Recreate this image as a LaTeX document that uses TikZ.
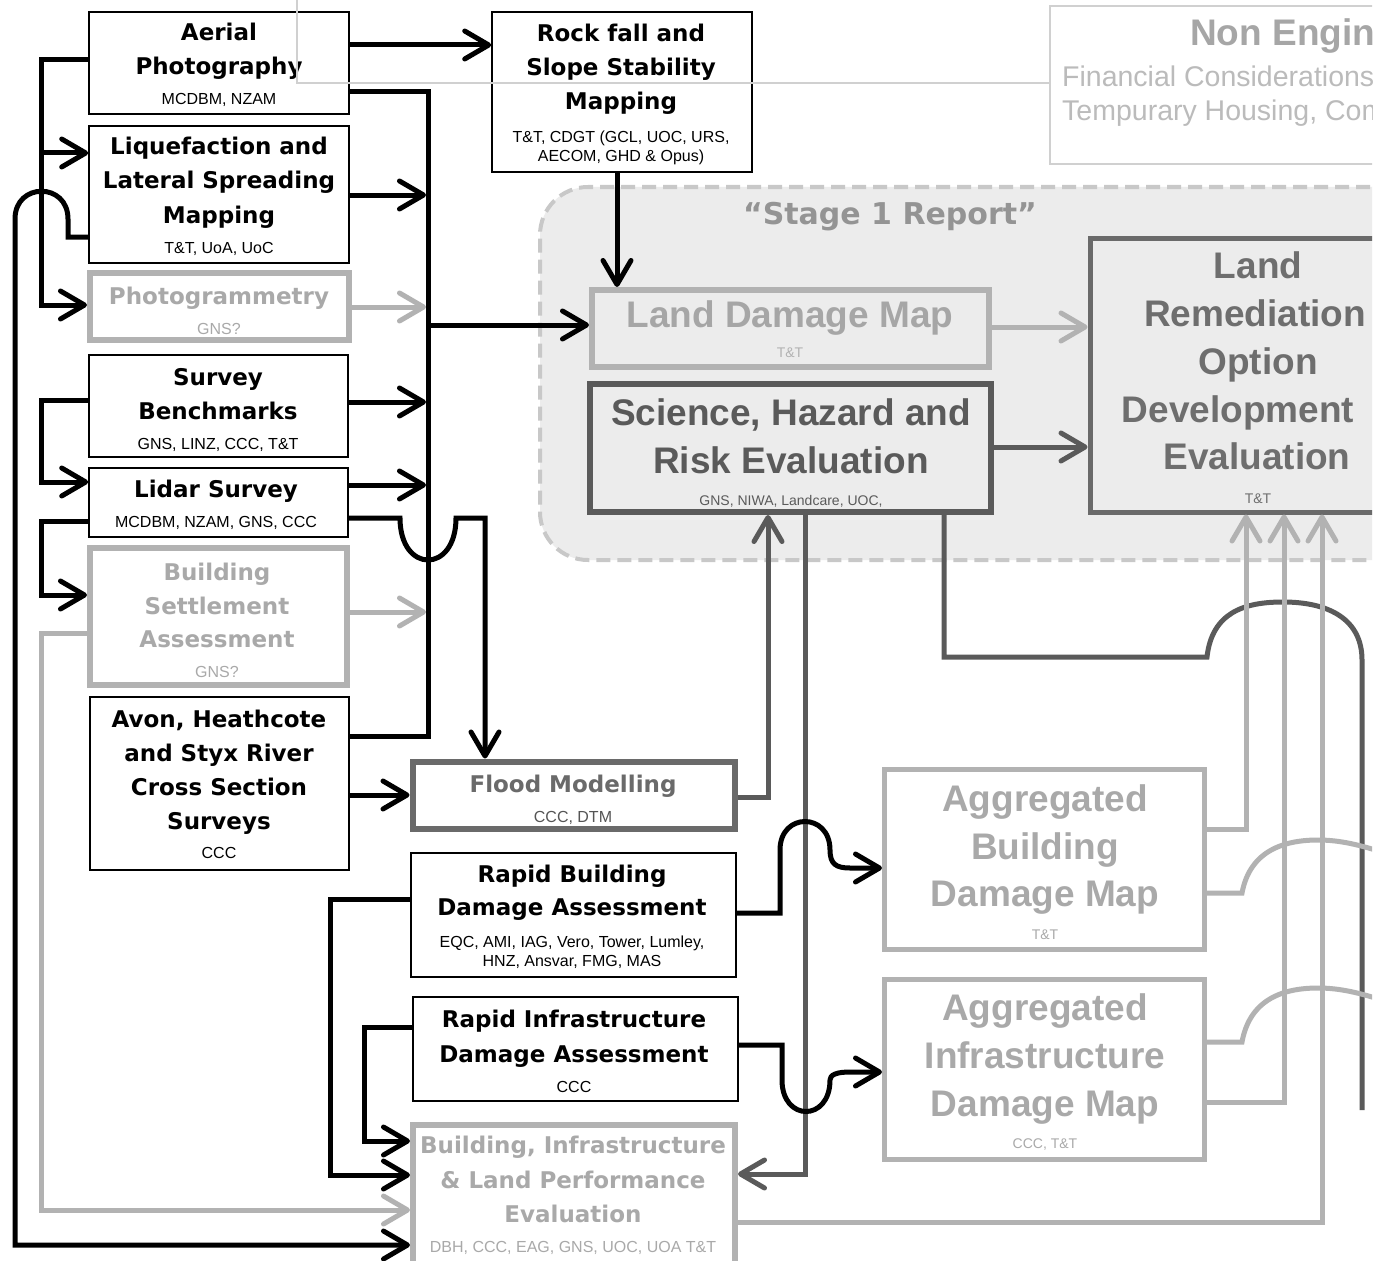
\documentclass[tikz,border=0pt]{standalone}
\usepackage{fontspec}
\usetikzlibrary{arrows.meta}
\newfontfamily\vfont{DejaVu Sans}
\newfontfamily\afont{Liberation Sans}
\definecolor{dkc}{HTML}{5A5A5A}
\definecolor{flc}{HTML}{6A6A6A}
\definecolor{lgc}{HTML}{B2B2B2}
\definecolor{lgt}{HTML}{A9A9A9}
\definecolor{regc}{HTML}{ECECEC}
\definecolor{regb}{HTML}{C8C8C8}
\definecolor{thinc}{HTML}{D0D0D0}
\definecolor{nebt}{HTML}{A6A6A6}
\definecolor{nebs}{HTML}{BBBBBB}
\tikzset{
  bbox/.style={draw=black, line width=1.6pt, fill=white},
  gbox/.style={draw=lgc, line width=6pt, fill=white},
  fbox/.style={draw=flc, line width=6pt, fill=white},
  ibox/.style={draw=lgc, line width=6pt},
  dbox/.style={draw=dkc, line width=6pt},
  region/.style={draw=regb, fill=regc, line width=4pt, dash pattern=on 14pt off 7pt, rounded corners=48pt},
  nebox/.style={draw=thinc, line width=1.2pt},
  t/.style={anchor=base, inner sep=0pt},
  ttl/.style={t, font=\vfont\bfseries\fontsize{23}{23}\selectfont, text=black},
  gttl/.style={ttl, text=lgt},
  fttl/.style={ttl, text=flc},
  sub/.style={t, font=\afont\fontsize{16}{16}\selectfont, text=black},
  gsub/.style={sub, text=lgt},
  fsub/.style={sub, text=flc!80!black},
  big/.style={t, font=\afont\bfseries\fontsize{37}{37}\selectfont},
  small/.style={t, font=\afont\fontsize{14}{14}\selectfont},
  bk/.style={draw=black, line width=5pt},
  gr/.style={draw=lgc, line width=5pt},
  dk/.style={draw=dkc, line width=5pt},
  thinl/.style={draw=thinc, line width=1.2pt},
}
\begin{document}
\begin{tikzpicture}[x=1pt, y=-1pt, >={Straight Barb[length=24pt,width=28pt,round]}, every node/.style={inner sep=0pt}]
\useasboundingbox[fill=white] (0,0) rectangle (1388,1260);
\clip (0,0) rectangle (1372,1260);

% Stage 1 region
\node[region, minimum width=920pt, minimum height=373pt] (stg) at (1000,373.5) {};
\node[t, font=\vfont\bfseries\fontsize{30}{30}\selectfont, text=black!42] (stgl) at (890,224) {“Stage 1 Report”};

% non-engineering box
\node[nebox, minimum width=380pt, minimum height=158pt] (neb) at (1240,85) {};
\node[t, anchor=base west, font=\afont\bfseries\fontsize{37}{37}\selectfont, text=nebt] (neb1) at (1190,46) {Non Engin};
\node[t, anchor=base west, font=\afont\fontsize{28.5}{28.5}\selectfont, text=nebs] (neb2) at (1062,87) {Financial Considerations};
\node[t, anchor=base west, font=\afont\fontsize{28.5}{28.5}\selectfont, text=nebs] (neb3) at (1062,121) {Tempurary Housing, Com};

% left column boxes
\node[bbox, minimum width=260pt, minimum height=102pt] (aer) at (219,63) {};
\node[ttl] (aer1) at (219,41) {Aerial};
\node[ttl] (aer2) at (219,75) {Photography};
\node[sub] (aer3) at (219,105) {MCDBM, NZAM};

\node[bbox, minimum width=260pt, minimum height=137pt] (liq) at (219,194.5) {};
\node[ttl] (liq1) at (219,155) {Liquefaction and};
\node[ttl] (liq2) at (219,189) {Lateral Spreading};
\node[ttl] (liq3) at (219,223) {Mapping};
\node[sub] (liq4) at (219,253) {T\&T, UoA, UoC};

\node[gbox, minimum width=259pt, minimum height=67pt] (pho) at (219.5,306.5) {};
\node[gttl] (pho1) at (219,304) {Photogrammetry};
\node[gsub] (pho2) at (219,334) {GNS?};

\node[bbox, minimum width=259pt, minimum height=102pt] (sur) at (218.5,406) {};
\node[ttl] (sur1) at (218,385) {Survey};
\node[ttl] (sur2) at (218,419) {Benchmarks};
\node[sub] (sur3) at (218,449) {GNS, LINZ, CCC, T\&T};

\node[bbox, minimum width=259pt, minimum height=69pt] (lid) at (218.5,502.5) {};
\node[ttl] (lid1) at (216,497) {Lidar Survey};
\node[sub] (lid2) at (216,527) {MCDBM, NZAM, GNS, CCC};

\node[gbox, minimum width=257pt, minimum height=137pt] (bse) at (218.5,616.5) {};
\node[gttl] (bse1) at (217,580) {Building};
\node[gttl] (bse2) at (217,614) {Settlement};
\node[gttl] (bse3) at (217,647) {Assessment};
\node[gsub] (bse4) at (217,677) {GNS?};

\node[bbox, minimum width=259pt, minimum height=173pt] (avo) at (219.5,783.5) {};
\node[ttl] (avo1) at (219,727) {Avon, Heathcote};
\node[ttl] (avo2) at (219,761) {and Styx River};
\node[ttl] (avo3) at (219,795) {Cross Section};
\node[ttl] (avo4) at (219,829) {Surveys};
\node[sub] (avo5) at (219,858) {CCC};

% middle column
\node[bbox, minimum width=260pt, minimum height=160pt] (roc) at (622,92) {};
\node[ttl] (roc1) at (621,42) {Rock fall and};
\node[ttl] (roc2) at (621,76) {Slope Stability};
\node[ttl] (roc3) at (621,110) {Mapping};
\node[sub] (roc4) at (621,143) {T\&T, CDGT (GCL, UOC, URS,};
\node[sub] (roc5) at (621,162) {AECOM, GHD \& Opus)};

\node[fbox, minimum width=322pt, minimum height=67pt] (flo) at (573.5,795) {};
\node[fttl] (flo1) at (573,792) {Flood Modelling};
\node[fsub] (flo2) at (573,822) {CCC, DTM};

\node[bbox, minimum width=325pt, minimum height=124pt] (rbd) at (573.5,915) {};
\node[ttl] (rbd1) at (572,882) {Rapid Building};
\node[ttl] (rbd2) at (572,915) {Damage Assessment};
\node[sub] (rbd3) at (572,947) {EQC, AMI, IAG, Vero, Tower, Lumley,};
\node[sub] (rbd4) at (572,966) {HNZ, Ansvar, FMG, MAS};

\node[bbox, minimum width=325pt, minimum height=104pt] (rid) at (575.5,1049) {};
\node[ttl] (rid1) at (574,1027) {Rapid Infrastructure};
\node[ttl] (rid2) at (574,1062) {Damage Assessment};
\node[sub] (rid3) at (574,1092) {CCC};

\node[gbox, minimum width=322pt, minimum height=145pt] (bie) at (574,1197.5) {};
\node[gttl] (bie1) at (573,1153) {Building, Infrastructure};
\node[gttl] (bie2) at (573,1188) {\& Land Performance};
\node[gttl] (bie3) at (573,1222) {Evaluation};
\node[gsub] (bie4) at (573,1252) {DBH, CCC, EAG, GNS, UOC, UOA T\&T};

% faint table lines (visible across the boxes)
\draw[thinl] (297,0) -- (297,83) -- (neb.west |- 0,83);

% stage 1 boxes
\node[ibox, minimum width=397pt, minimum height=77pt] (ldm) at (790.5,328.5) {};
\node[big, text=black!35] (ldm1) at (790,327) {Land Damage Map};
\node[small, text=black!30] (ldm2) at (790,357) {T\&T};

\node[dbox, minimum width=401pt, minimum height=128pt] (she) at (790.5,448) {};
\node[big, text=dkc] (she1) at (791,425) {Science, Hazard and};
\node[big, text=dkc] (she2) at (791,473) {Risk Evaluation};
\node[small, text=dkc] (she3) at (791,505) {GNS, NIWA, Landcare, UOC,};

\node[dbox, draw=flc, line width=5pt, minimum width=330pt, minimum height=274pt] (lro) at (1255,375) {};
\node[big, text=black!57] (lro1) at (1258,278) {Land};
\node[big, text=black!57] (lro2) at (1255,326) {Remediation};
\node[big, text=black!57] (lro3) at (1258,374) {Option};
\node[big, text=black!57] (lro4) at (1238,422) {Development};
\node[big, text=black!57] (lro5) at (1257,469) {Evaluation};
\node[small, text=black!57] (lro6) at (1258,503) {T\&T};

% aggregated maps
\node[gbox, line width=5pt, minimum width=320pt, minimum height=180pt] (abd) at (1044.5,859.5) {};
\node[big, text=lgt] (abd1) at (1045,811) {Aggregated};
\node[big, text=lgt] (abd2) at (1045,859) {Building};
\node[big, text=lgt] (abd3) at (1045,906) {Damage Map};
\node[small, text=lgt] (abd4) at (1045,939) {T\&T};

\node[gbox, line width=5pt, minimum width=320pt, minimum height=180pt] (aid) at (1044.5,1069.5) {};
\node[big, text=lgt] (aid1) at (1045,1020) {Aggregated};
\node[big, text=lgt] (aid2) at (1045,1068) {Infrastructure};
\node[big, text=lgt] (aid3) at (1045,1116) {Damage Map};
\node[small, text=lgt] (aid4) at (1045,1148) {CCC, T\&T};

% ---- connectors: dark ----
\draw[dk] (944,0 |- she.south) -- (944,657) -- (1207,657) .. controls (1212,612) and (1245,602) .. (1283,602) .. controls (1330,602) and (1362,620) .. (1362,660) -- (1362,1110);
\draw[dk,->] (flo.east |- 0,797) -- (768,797) -- (768,0 |- she.south);
\draw[dk,->] (805,0 |- she.south) -- (805,1174) -- (bie.east |- 0,1174);
\draw[dk,->] (she.east |- 0,447) -- (lro.west |- 0,447);

% ---- connectors: light grey ----
\draw[gr] (abd.east |- 0,893) -- (1242,893) .. controls (1250,850) and (1285,840) .. (1318,840) .. controls (1340,840) and (1360,845) .. (1385,853);
\draw[gr] (aid.east |- 0,1042) -- (1242,1042) .. controls (1250,998) and (1285,988) .. (1318,988) .. controls (1340,988) and (1360,993) .. (1385,1001);
\draw[gr,->] (ldm.east |- 0,327) -- (lro.west |- 0,327);
\draw[gr,->] (abd.east |- 0,829) -- (1246,829) -- (1246,0 |- lro.south);
\draw[gr,->] (aid.east |- 0,1102) -- (1284,1102) -- (1284,0 |- lro.south);
\draw[gr,->] (bie.east |- 0,1222) -- (1322,1222) -- (1322,0 |- lro.south);
\draw[gr,->] (pho.east |- 0,307) -- (426,307);
\draw[gr,->] (bse.east |- 0,612) -- (426,612);
\draw[gr,->] (bse.west |- 0,633) -- (41,633) -- (41,1210) -- (bie.west |- 0,1210);

% ---- connectors: black ----
\draw[bk,->] (aer.east |- 0,45) -- (roc.west |- 0,45);
\draw[bk] (aer.east |- 0,92) -- (428,92) -- (428,736) -- (avo.east |- 0,736);
\draw[bk,->] (428,325) -- (ldm.west |- 0,325);
\draw[bk,->] (liq.east |- 0,195) -- (426,195);
\draw[bk,->] (sur.east |- 0,402) -- (426,402);
\draw[bk,->] (lid.east |- 0,485) -- (426,485);
\draw[bk,->] (lid.east |- 0,518) -- (400,518) .. controls (400,574) and (456,574) .. (456,518) -- (485,518) -- (485,0 |- flo.north);
\draw[bk,->] (617,0 |- roc.south) -- (617,0 |- ldm.north);
\draw[bk,->] (avo.east |- 0,795) -- (flo.west |- 0,795);
\draw[bk,->] (aer.west |- 0,60) -- (41,60) -- (41,305) -- (pho.west |- 0,305);
\draw[bk,->] (41,153) -- (liq.west |- 0,153);
\draw[bk,->] (liq.west |- 0,237) -- (68,237) -- (68,219) .. controls (68,182) and (15,182) .. (15,219) -- (15,1245) -- (bie.west |- 0,1245);
\draw[bk,->] (sur.west |- 0,400) -- (41,400) -- (41,482) -- (lid.west |- 0,482);
\draw[bk,->] (lid.west |- 0,521) -- (41,521) -- (41,595) -- (bse.west |- 0,595);
\draw[bk,->] (rbd.west |- 0,899) -- (330,899) -- (330,1175) -- (bie.west |- 0,1175);
\draw[bk,->] (rid.west |- 0,1027) -- (364,1027) -- (364,1141) -- (bie.west |- 0,1141);
\draw[bk,->] (rbd.east |- 0,913) -- (780,913) -- (780,850) .. controls (780,812) and (830,812) .. (830,850) .. controls (830,864) and (836,868) .. (850,868) -- (abd.west |- 0,868);
\draw[bk,->] (rid.east |- 0,1045) -- (782,1045) -- (782,1080) .. controls (782,1122) and (830,1122) .. (830,1080) .. controls (830,1075) and (836,1072) .. (850,1072) -- (aid.west |- 0,1072);
\end{tikzpicture}
\end{document}
